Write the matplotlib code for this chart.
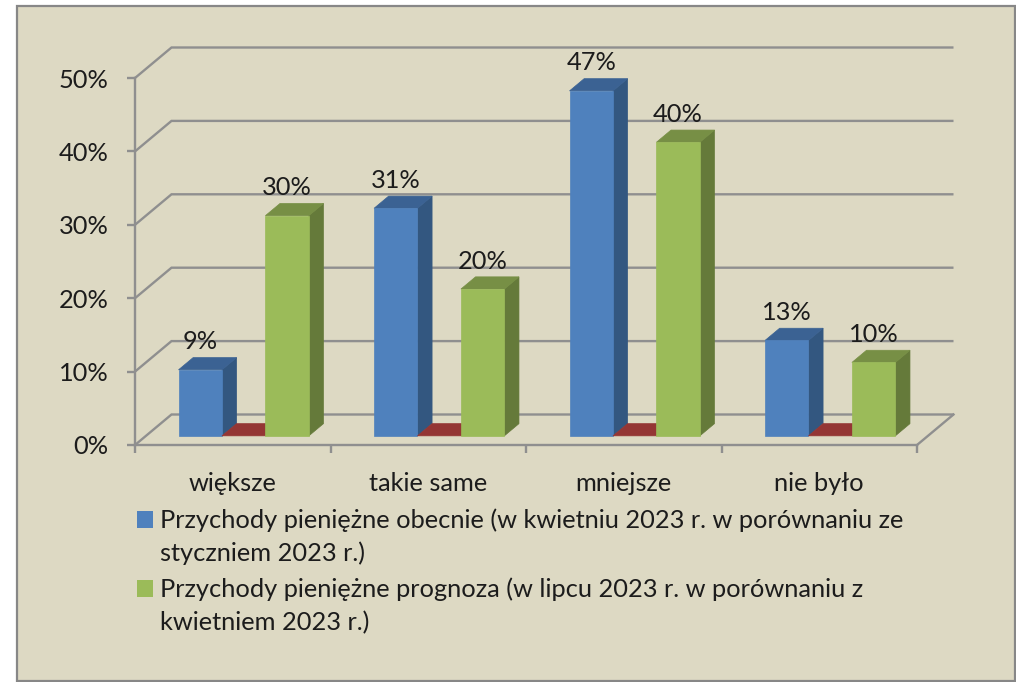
import matplotlib.pyplot as plt
from matplotlib.patches import Polygon, Rectangle
from matplotlib.ticker import FuncFormatter
import numpy as np

categories = ['większe', 'takie same', 'mniejsze', 'nie było']
obecnie = [9, 31, 47, 13]
ukryta = [0, 0, 0, 0]
prognoza = [30, 20, 40, 10]
y_ticks = [0, 10, 20, 30, 40, 50]
legend_obecnie = 'Przychody pieniężne obecnie (w kwietniu 2023 r. w porównaniu ze\nstyczniem 2023 r.)'
legend_prognoza = 'Przychody pieniężne prognoza (w lipcu 2023 r. w porównaniu z\nkwietniem 2023 r.)'

W, H = 1016, 682
BG = '#DDD9C3'
GRID = '#8F8F8F'
FONT = 'Lato'
SIZE = 18.3

plt.rcParams['font.family'] = FONT

fig = plt.figure(figsize=(W / 100, H / 100), dpi=100, facecolor='white')
fig.add_artist(Rectangle((17 / W, 1 - 681 / H), 998 / W, 675 / H, transform=fig.transFigure,
                         facecolor=BG, edgecolor='#878787', linewidth=1.6, zorder=-1))

ax = fig.add_axes([135 / W, 1 - 445 / H, 782 / W, 367 / H])
ax.patch.set_visible(False)
ax.set_xlim(0, 4)
ax.set_ylim(0, 50)

# oblique depth of the fake 3d box, in data units
px_x = 4 / 782
px_y = 50 / 367
wall_dx = 36.5 * px_x
wall_dy = 30.5 * px_y


def shift(x, y, d):
    return x + d * wall_dx, y + d * wall_dy


# walls and floor
for v in y_ticks:
    x0, y0 = shift(0, v, 1)
    x1, y1 = shift(4, v, 1)
    ax.plot([0, x0, x1], [v, y0, y1], color=GRID, lw=1.7, clip_on=False, zorder=1,
            solid_capstyle='butt', solid_joinstyle='miter')
x1, y1 = shift(4, 0, 1)
ax.plot([4, x1], [0, y1], color=GRID, lw=1.7, clip_on=False, zorder=1)

# bars: 3 series with gap of 1.5 bar widths, sitting at depth 0.3 to 0.7
bar_w = 1 / 4.5
d_front, d_back = 0.3, 0.7
series = [
    (obecnie, 0, '#4F81BD', '#335780', '#3B6293'),
    (ukryta, 1, '#C0504D', '#943634', '#943634'),
    (prognoza, 2, '#9BBB59', '#657A3A', '#778F45'),
]

positions = np.arange(len(categories))
for vals, k, front, side, top in series:
    left = positions + 1 / 6 + k * bar_w
    fx, fy = shift(left, 0, d_front)
    for x, v in zip(fx, vals):
        h = [(x, fy + v), (x + bar_w, fy + v),
             (x + bar_w + (d_back - d_front) * wall_dx, fy + v + (d_back - d_front) * wall_dy),
             (x + (d_back - d_front) * wall_dx, fy + v + (d_back - d_front) * wall_dy)]
        s = [(x + bar_w, fy), (x + bar_w, fy + v), h[2],
             (x + bar_w + (d_back - d_front) * wall_dx, fy + (d_back - d_front) * wall_dy)]
        ax.add_patch(Polygon(s, facecolor=side, edgecolor=side, lw=0.5, zorder=2 + k, clip_on=False))
        ax.add_patch(Polygon(h, facecolor=top, edgecolor=top, lw=0.5, zorder=2 + k, clip_on=False))
    if k != 1:
        ax.bar(fx, vals, bar_w, bottom=fy, align='edge', color=front, edgecolor=front,
               linewidth=0.5, zorder=3 + k, clip_on=False)
        for x, v in zip(fx, vals):
            ax.text(x + bar_w / 2, fy + v + 28 * px_y, f'{v}%', ha='center', va='center',
                    fontsize=SIZE, color='#1c1c1c', zorder=8)

# axes
for name in ['top', 'right']:
    ax.spines[name].set_visible(False)
for name in ['left', 'bottom']:
    ax.spines[name].set_color(GRID)
    ax.spines[name].set_linewidth(1.7)

ax.set_yticks(y_ticks)
ax.yaxis.set_major_formatter(FuncFormatter(lambda v, p: f'{v:.0f}%'))
ax.tick_params(axis='y', length=6, width=1.7, color=GRID, pad=13, labelsize=SIZE, labelcolor='#1c1c1c')
ax.set_xticks(np.arange(0, 5))
ax.set_xticklabels([])
ax.set_xticks(positions + 0.5, minor=True)
ax.set_xticklabels(categories, minor=True)
ax.tick_params(axis='x', which='major', length=6, width=1.7, color=GRID)
ax.tick_params(axis='x', which='minor', length=0, pad=19.5, labelsize=SIZE, labelcolor='#1c1c1c')

# legend
for text, col, y_sq in [(legend_obecnie, '#4F81BD', 511), (legend_prognoza, '#9BBB59', 580)]:
    fig.add_artist(Rectangle((137 / W, 1 - (y_sq + 17) / H), 16 / W, 17 / H, transform=fig.transFigure,
                             facecolor=col, edgecolor='none'))
    fig.text(160 / W, 1 - (y_sq - 3) / H, text, ha='left', va='top', fontsize=SIZE, color='#1c1c1c',
             linespacing=1.52)

fig.savefig('out.png', dpi=100, facecolor='white')
